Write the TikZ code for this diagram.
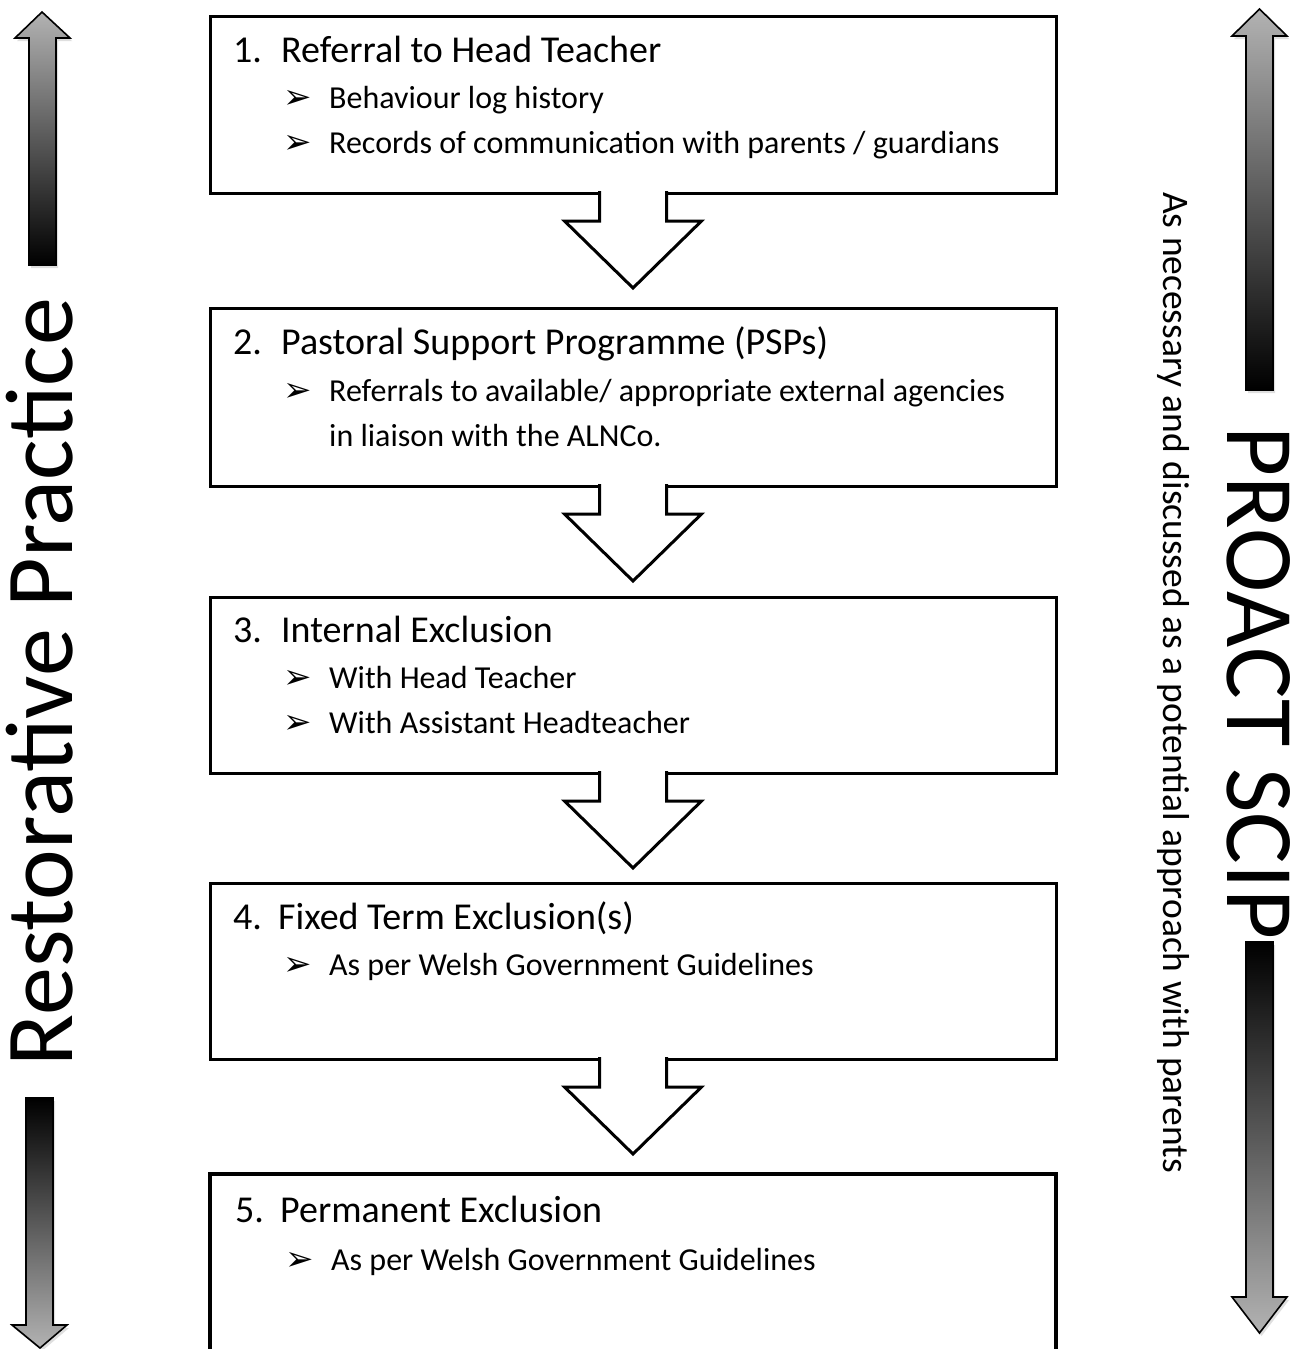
\documentclass[tikz,border=0pt]{standalone}
\usepackage{fontspec}
\setmainfont{Carlito}
\newfontfamily\symfont{DejaVu Sans}
\usetikzlibrary{calc,shadows}
\newcommand\bul{{\symfont\fontsize{34}{34}\selectfont ➢}}
\begin{document}
\begin{tikzpicture}[x=1pt,y=-1pt,
  box/.style={draw, line width=3pt, minimum width=846pt, inner sep=0pt, outer sep=0pt},
  title/.style={anchor=base west, inner sep=0pt, font=\fontsize{38}{44}\selectfont},
  item/.style={anchor=base west, inner sep=0pt, font=\fontsize{32}{38}\selectfont},
  flow/.style={draw, fill=white, line width=3pt, line join=miter},
  upbar/.style={draw=black, line width=1.6pt, line join=miter, top color=black!30, bottom color=black,
    drop shadow={opacity=0.25, shadow xshift=2pt, shadow yshift=-3pt}},
  downbar/.style={draw=black, line width=1.6pt, line join=miter, top color=black, bottom color=black!30,
    drop shadow={opacity=0.25, shadow xshift=2pt, shadow yshift=-3pt}}
]
\useasboundingbox (0,0) rectangle (1300,1349);
\fill[white] (0,0) rectangle (1300,1349);

% boxes
\node[box, minimum height=177pt] (b1) at (633,104.5) {};
\node[box, minimum height=178pt] (b2) at (633,397) {};
\node[box, minimum height=176pt] (b3) at (633,685) {};
\node[box, minimum height=176pt] (b4) at (633,971) {};
\node[box, minimum height=226pt, line width=3.5pt] (b5) at (633,1287) {};

% block arrows between boxes
\newcommand\flowarrow[1]{%
  \draw[flow] ($(#1.south)+(-33.5,-2)$) -- ($(#1.south)+(-33.5,28)$)
    -- ($(#1.south)+(-68.5,28)$) -- ($(#1.south)+(0,95)$)
    -- ($(#1.south)+(68.5,28)$) -- ($(#1.south)+(33.5,28)$)
    -- ($(#1.south)+(33.5,-2)$);}
\flowarrow{b1}
\flowarrow{b2}
\flowarrow{b3}
\flowarrow{b4}

% box texts
\node[title] (t1) at (233,62) {\makebox[48pt][l]{1.}Referral to Head Teacher};
\node[item] (i1a) at (283,108) {\makebox[46pt][l]{\bul}Behaviour log history};
\node[item] (i1b) at (283,153) {\makebox[46pt][l]{\bul}Records of communication with parents / guardians};

\node[title] (t2) at (233,354) {\makebox[48pt][l]{2.}Pastoral Support Programme (PSPs)};
\node[item] (i2a) at (283,401) {\makebox[46pt][l]{\bul}Referrals to available/ appropriate external agencies};
\node[item] (i2b) at (329,446) {in liaison with the ALNCo.};

\node[title] (t3) at (233,642) {\makebox[48pt][l]{3.}Internal Exclusion};
\node[item] (i3a) at (283,688) {\makebox[46pt][l]{\bul}With Head Teacher};
\node[item] (i3b) at (283,733) {\makebox[46pt][l]{\bul}With Assistant Headteacher};

\node[title] (t4) at (233,929) {\makebox[45pt][l]{4.}Fixed Term Exclusion(s)};
\node[item] (i4a) at (283,975) {\makebox[46pt][l]{\bul}As per Welsh Government Guidelines};

\node[title] (t5) at (235,1222) {\makebox[45pt][l]{5.}Permanent Exclusion};
\node[item] (i5a) at (285,1270) {\makebox[46pt][l]{\bul}As per Welsh Government Guidelines};

% side arrows
\draw[upbar] (42,12) -- (70,38) -- (56,38) -- (56,265) -- (29,265) -- (29,38) -- (15,38) -- cycle;
\draw[downbar] (26,1098) -- (53,1098) -- (53,1325) -- (67,1325) -- (40,1348) -- (12,1325) -- (26,1325) -- cycle;
\draw[upbar] (1259.5,9) -- (1287,36) -- (1273,36) -- (1273,390) -- (1246,390) -- (1246,36) -- (1232,36) -- cycle;
\draw[downbar] (1246,942) -- (1273,942) -- (1273,1297) -- (1287,1297) -- (1259.5,1333) -- (1232,1297) -- (1246,1297) -- cycle;

% side texts
\node[rotate=90, anchor=base, inner sep=0pt, font=\fontsize{96}{96}\selectfont] (rp) at (72,682) {Restorative Practice};
\node[rotate=-90, anchor=base, inner sep=0pt, font=\fontsize{97}{97}\selectfont] (ps) at (1227,683) {PROACT SCIP};
\node[rotate=-90, anchor=base, inner sep=0pt, font=\fontsize{37.5}{37.5}\selectfont] (an) at (1163,682.5) {As necessary and discussed as a potential approach with parents};
\end{tikzpicture}
\end{document}
